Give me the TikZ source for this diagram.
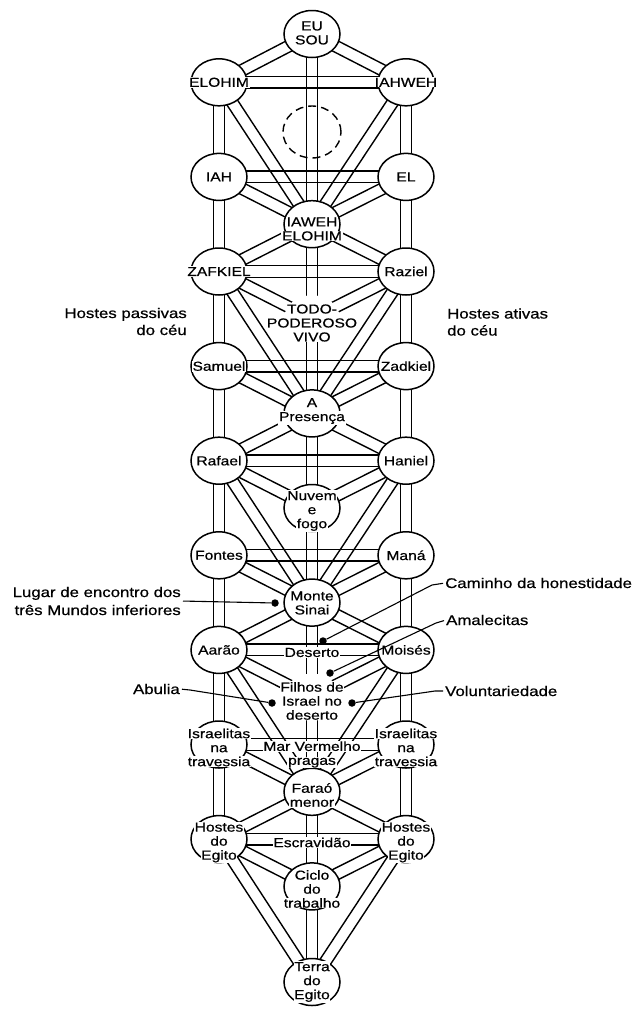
\documentclass[tikz,border=0pt]{standalone}
\usepackage{fontspec}
\setmainfont{Liberation Sans}[FakeStretch=1.2,FakeBold=0.6]
\usetikzlibrary{shapes.geometric,calc}
\pgfdeclarelayer{channels}
\pgfsetlayers{channels,main}
\setlength{\fboxsep}{0.7pt}
% white backing behind each text line, so it breaks the lines below it
\newcommand\wb[1]{\colorbox{white}{#1}}
\newcommand\sphfont{\fontsize{13}{14}\selectfont\lineskiplimit=-20pt\lineskip=0pt}
\newcommand\annfont{\fontsize{14}{17}\selectfont}
% a path of the ladder: two parallel lines between two spheres
\newcommand\chan[2]{%
  \draw[chan] ($(#1.center)!5.75pt!90:(#2.center)$) -- ($(#2.center)!5.75pt!-90:(#1.center)$);
  \draw[chan] ($(#1.center)!5.75pt!-90:(#2.center)$) -- ($(#2.center)!5.75pt!90:(#1.center)$);}
\begin{document}
\begin{tikzpicture}[x=1pt,y=-1pt,
  sph/.style={ellipse, draw, line width=1.5pt, fill=white, minimum width=56pt, minimum height=47pt, inner sep=0pt},
  voidsph/.style={ellipse, fill=white, minimum width=56pt, minimum height=47pt, inner sep=0pt},
  veil/.style={ellipse, draw, dash pattern=on 8pt off 5pt, line width=1.4pt, minimum width=58pt, minimum height=52pt, inner sep=0pt},
  txt/.style={align=center, font=\sphfont, inner sep=0pt},
  chan/.style={line width=1.4pt},
  note/.style={font=\annfont, inner sep=0pt},
  lead/.style={line width=1.1pt},
  spot/.style={circle, fill=black, minimum size=7.5pt, inner sep=0pt}]
\useasboundingbox (0,0) rectangle (641,1010);

% side spheres: left and right pillars
\foreach \i/\y in {1/82.3,2/176.9,3/271.5,4/366.1,5/460.7,6/555.3,7/649.9,8/744.5,9/839.1}{
  \node[sph] (l\i) at (219,\y) {};
  \node[sph] (r\i) at (406,\y) {};
}
% central pillar
\node[sph] (c0) at (312,34) {};
\node[veil] (d1) at (312,132) {};
\node[sph] (c1) at (312,224.2) {};
\node[voidsph] (d2) at (312,318.8) {};
\node[sph] (c2) at (312,413.4) {};
\node[sph] (d3) at (312,508) {};
\node[sph] (c3) at (312,602.6) {};
\node[voidsph] (d4) at (312,697.2) {};
\node[sph] (c4) at (312,791.8) {};
\node[sph] (d5) at (312,886.4) {};
\node[sph] (c5) at (312,982) {};

% paths of the four trees
\begin{pgfonlayer}{channels}
\fill[white] (0,0) rectangle (641,1010);
\foreach \a/\b in {c0/c1,c1/d2,d2/c2,c2/d3,d3/c3,c3/d4,d4/c4,c4/d5,d5/c5,
  l1/r1,l2/r2,l3/r3,l4/r4,l5/r5,l6/r6,l7/r7,l8/r8,l9/r9}{\chan{\a}{\b}}
\foreach \s in {l,r}{
  \foreach \i/\j in {1/2,2/3,3/4,4/5,5/6,6/7,7/8,8/9}{\chan{\s\i}{\s\j}}
  \foreach \k/\i in {c0/1,c1/1,c1/2,c1/3,d2/3,c2/3,c2/4,c2/5,d3/5,c3/5,c3/6,c3/7,d4/7,c4/7,c4/8,c4/9,d5/9,c5/9}{\chan{\k}{\s\i}}
}
\end{pgfonlayer}

% names of the spheres
\node[txt] (t-c0) at (312,33) {\wb{EU}\\\wb{SOU}};
\node[txt] (t-l1) at (219,82.3) {\wb{ELOHIM}};
\node[txt] (t-r1) at (406,82.3) {\wb{IAHWEH}};
\node[txt] (t-l2) at (219,176.9) {\wb{IAH}};
\node[txt] (t-r2) at (406,176.9) {\wb{EL}};
\node[txt] (t-c1) at (312,229) {\wb{IAWEH}\\\wb{ELOHIM}};
\node[txt] (t-l3) at (219,271.5) {\wb{ZAFKIEL}};
\node[txt] (t-r3) at (406,271.5) {\wb{Raziel}};
\node[txt] (t-d2) at (312,323) {\wb{TODO-}\\\wb{PODEROSO}\\\wb{VIVO}};
\node[txt] (t-l4) at (219,366.1) {\wb{Samuel}};
\node[txt] (t-r4) at (406,366.1) {\wb{Zadkiel}};
\node[txt] (t-c2) at (312,411) {\wb{A}\\\wb{Presença}};
\node[txt] (t-l5) at (219,460.7) {\wb{Rafael}};
\node[txt] (t-r5) at (406,460.7) {\wb{Haniel}};
\node[txt] (t-d3) at (312,511) {\wb{Nuvem}\\\wb{e}\\\wb{fogo}};
\node[txt] (t-l6) at (219,555.3) {\wb{Fontes}};
\node[txt] (t-r6) at (406,555.3) {\wb{Maná}};
\node[txt] (t-c3) at (312,603) {\wb{Monte}\\\wb{Sinai}};
\node[txt] (t-l7) at (219,649.9) {\wb{Aarão}};
\node[txt] (t-r7) at (406,649.9) {\wb{Moisés}};
\node[txt] (t-b7) at (312,652.5) {\wb{Deserto}};
\node[txt] (t-d4) at (312,701) {\wb{Filhos de}\\\wb{Israel no}\\\wb{deserto}};
\node[txt] (t-l8) at (219,747.5) {\wb{Israelitas}\\\wb{na}\\\wb{travessia}};
\node[txt] (t-r8) at (406,747.5) {\wb{Israelitas}\\\wb{na}\\\wb{travessia}};
\node[txt] (t-b8) at (312,754.5) {\wb{Mar Vermelho}\\\wb{pragas}};
\node[txt] (t-c4) at (312,795) {\wb{Faraó}\\\wb{menor}};
\node[txt] (t-l9) at (219,842.5) {\wb{Hostes}\\\wb{do}\\\wb{Egito}};
\node[txt] (t-r9) at (406,842.5) {\wb{Hostes}\\\wb{do}\\\wb{Egito}};
\node[txt] (t-b9) at (312,842.5) {\wb{Escravidão}};
\node[txt] (t-d5) at (312,889) {\wb{Ciclo}\\\wb{do}\\\wb{trabalho}};
\node[txt] (t-c5) at (312,982) {\wb{Terra}\\\wb{do}\\\wb{Egito}};

% side notes
\node[note, align=right, anchor=east] (passivas) at (187,321.5) {Hostes passivas\\do céu};
\node[note, align=left, anchor=west] (ativas) at (447,322) {Hostes ativas\\do céu};
\node[note, align=right, anchor=east, font=\fontsize{14}{18}\selectfont] (lugar) at (181,601) {Lugar de encontro dos\\três Mundos inferiores};
\node[note, anchor=west] (caminho) at (445,583) {Caminho da honestidade};
\node[note, anchor=west] (amalec) at (446,620) {Amalecitas};
\node[note, anchor=east] (abulia) at (180,689) {Abulia};
\node[note, anchor=west] (volunt) at (445,691) {Voluntariedade};

% marker dots and their leaders
\node[spot] (p1) at (275,603) {};
\node[spot] (p2) at (323,641) {};
\node[spot] (p3) at (330,673) {};
\node[spot] (p4) at (272,703) {};
\node[spot] (p5) at (352,703) {};
\draw[lead, shorten <=2pt] (lugar.east) -- (p1);
\draw[lead, shorten <=2pt] (caminho.west) -- ++(-13,2) -- (p2);
\draw[lead, shorten <=2pt] (amalec.west) -- ++(-10,3) -- (p3);
\draw[lead, shorten <=2pt] (abulia.east) -- ++(10,1) -- (p4);
\draw[lead, shorten <=2pt] (volunt.west) -- ++(-10,0) -- (p5);
\end{tikzpicture}
\end{document}
